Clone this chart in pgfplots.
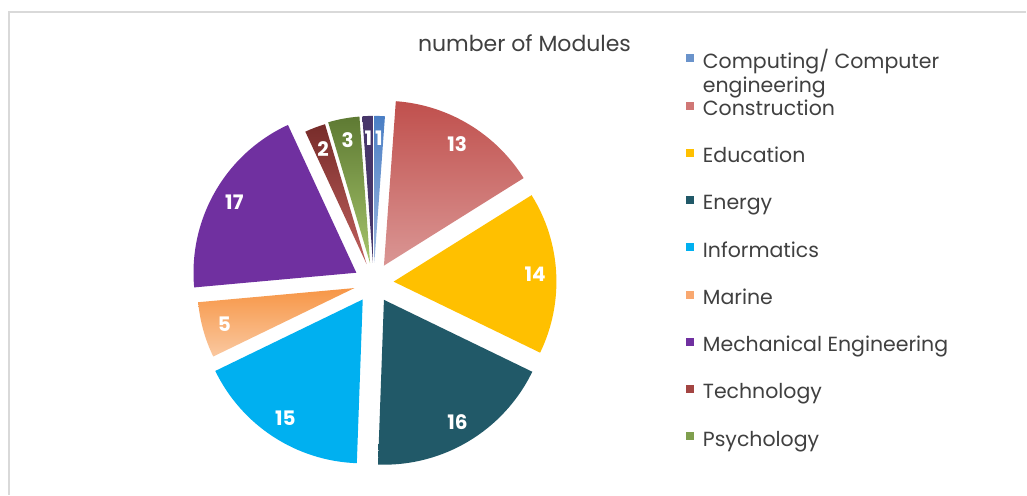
\documentclass[border=0pt]{standalone}
\usepackage{fontspec}
\setmainfont{Poppins}
\usepackage{pgfplots}
\usepackage{pgfplotstable}
\pgfplotsset{compat=1.18}

\definecolor{compA}{HTML}{4A7EC4}
\definecolor{compB}{HTML}{9DB8E0}
\definecolor{consA}{HTML}{C0504D}
\definecolor{consB}{HTML}{DA9694}
\definecolor{edu}{HTML}{FFC000}
\definecolor{ene}{HTML}{215968}
\definecolor{inf}{HTML}{00B0F0}
\definecolor{marA}{HTML}{F79646}
\definecolor{marB}{HTML}{FAC8A0}
\definecolor{mech}{HTML}{7030A0}
\definecolor{techA}{HTML}{772C2A}
\definecolor{techB}{HTML}{C0605D}
\definecolor{psyA}{HTML}{5E7A33}
\definecolor{psyB}{HTML}{A5C46A}
\definecolor{oth}{HTML}{47366A}
\definecolor{textgray}{HTML}{404040}
\definecolor{framegray}{HTML}{D9D9D9}

\definecolor{lcomp}{HTML}{6A93CB}
\definecolor{lcons}{HTML}{D07775}
\definecolor{lmar}{HTML}{F9A870}
\definecolor{ltech}{HTML}{A34542}
\definecolor{lpsy}{HTML}{7F9F4E}

% value, top colour, bottom colour, label distance, radius
\pgfplotstableread{
value top bottom dist rad
1  compA compB 145 147
13 consA consB 162 165
14 edu   edu   162 163
16 ene   ene   163 165
15 inf   inf   162 164
5  marA  marB  155 157
17 mech  mech  161 163
2  techA techB 143 146
3  psyA  psyB  145 147
1  oth   oth   145 147
}\piedata

\begin{document}
\begin{tikzpicture}
\begin{axis}[
  x=1pt, y=1pt, xmin=0, xmax=1027, ymin=0, ymax=495,
  hide axis, clip=false, scale only axis,
  legend cell align=left,
  legend image code/.code={\fill[#1] (0pt,2pt) rectangle (7pt,9pt);},
  legend style={at={(axis cs:686,441)}, anchor=north west,
    draw=none, fill=none, inner sep=0pt, row sep=28.3pt,
    font=\fontsize{20.5}{24}\selectfont, text=textgray,
    nodes={inner sep=0pt, text height=14pt, text depth=5pt},
    /tikz/every odd column/.append style={column sep=10pt}},
]
\pgfplotsextra{%
  \fill[white] (axis cs:0,0) rectangle (axis cs:1027,495);
  \draw[framegray, line width=2pt] (axis cs:9,0) -- (axis cs:9,483) -- (axis cs:1027,483);
  \node[anchor=base, text=textgray, font=\fontsize{22}{22}\selectfont] at (axis cs:525,443) {number of Modules};
  \gdef\mytotal{0}%
  \foreach \i in {0,...,9}{%
    \pgfplotstablegetelem{\i}{value}\of\piedata
    \pgfmathsetmacro\t{\mytotal+\pgfplotsretval}\xdef\mytotal{\t}%
  }%
  \gdef\cum{0}%
  \foreach \i in {0,...,9}{%
    \pgfplotstablegetelem{\i}{value}\of\piedata \let\v\pgfplotsretval
    \pgfplotstablegetelem{\i}{top}\of\piedata \let\ct\pgfplotsretval
    \pgfplotstablegetelem{\i}{bottom}\of\piedata \let\cb\pgfplotsretval
    \pgfplotstablegetelem{\i}{dist}\of\piedata \let\ld\pgfplotsretval
    \pgfplotstablegetelem{\i}{rad}\of\piedata \let\rr\pgfplotsretval
    \pgfmathsetmacro\aa{90-\cum/\mytotal*360}%
    \pgfmathsetmacro\ab{90-(\cum+\v)/\mytotal*360}%
    \pgfmathsetmacro\am{(\aa+\ab)/2}%
    \pgfmathsetmacro\nc{\cum+\v}\xdef\cum{\nc}%
    \pgfmathsetmacro\px{374+20*cos(\am)}%
    \pgfmathsetmacro\py{212+20*sin(\am)}%
    \pgfmathsetmacro\lx{374+\ld*cos(\am)}%
    \pgfmathsetmacro\ly{212+\ld*sin(\am)}%
    \shade[top color=\ct, bottom color=\cb] (axis cs:\px,\py) -- ++(\aa:\rr) arc[start angle=\aa, end angle=\ab, radius=\rr] -- cycle;
    \node[text=white, font=\fontsize{20}{20}\selectfont\bfseries] at (axis cs:\lx,\ly) {\v};
  }%
}
\addlegendimage{lcomp}
\addlegendentry{\parbox[t]{10cm}{\baselineskip=24pt Computing/ Computer\\engineering}}
\addlegendimage{lcons}
\addlegendentry{Construction}
\addlegendimage{edu}
\addlegendentry{Education}
\addlegendimage{ene}
\addlegendentry{Energy}
\addlegendimage{inf}
\addlegendentry{Informatics}
\addlegendimage{lmar}
\addlegendentry{Marine}
\addlegendimage{mech}
\addlegendentry{Mechanical Engineering}
\addlegendimage{ltech}
\addlegendentry{Technology}
\addlegendimage{lpsy}
\addlegendentry{Psychology}
\end{axis}
\end{tikzpicture}
\end{document}
